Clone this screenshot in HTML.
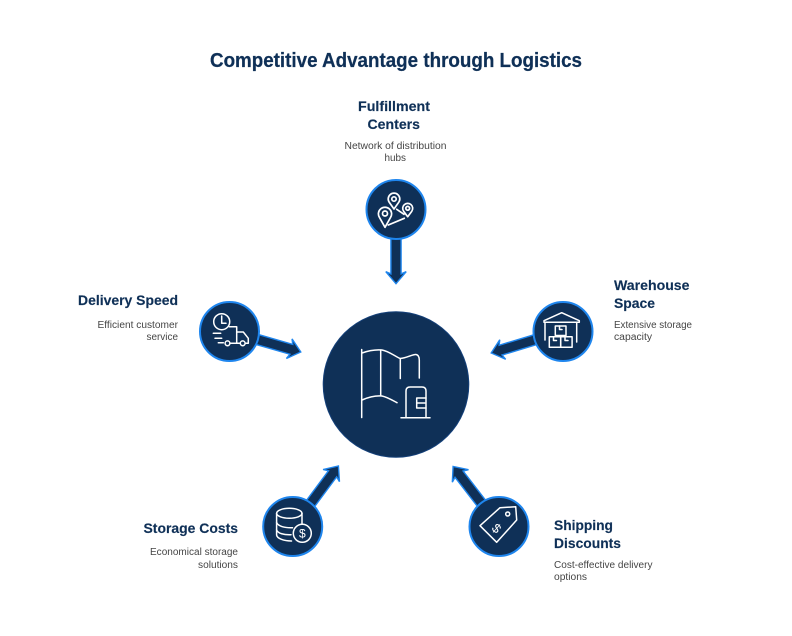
<!DOCTYPE html>
<html><head><meta charset="utf-8"><style>
html,body{margin:0;padding:0;background:#fff;width:792px;height:636px;overflow:hidden}
svg{display:block}
text{font-family:"Liberation Sans",sans-serif}
.t{font-weight:bold;fill:#0f3057;stroke:#0f3057;stroke-width:.25;font-size:20px}
.h{font-weight:bold;fill:#0f3057;stroke:#0f3057;stroke-width:.15;font-size:14px}
.s{fill:#454545;font-size:10px}
.i{fill:none;stroke:#fff;stroke-width:1.5;stroke-linecap:round;stroke-linejoin:round}
.a{fill:#0f3057;stroke:#1f86ee;stroke-width:1.4;stroke-linejoin:miter}
.c{fill:#0f3057;stroke:#1f86ee;stroke-width:2}
</style></head><body>
<svg width="792" height="636" viewBox="0 0 792 636" xmlns="http://www.w3.org/2000/svg">
<defs><path id="ar" d="M-5.1,-78 L-5.1,-11.6 L-10.2,-13.8 L0,-1.8 L10.2,-13.8 L5.1,-11.6 L5.1,-78 Z"/></defs>

<text class="t" x="210" y="67" textLength="372" lengthAdjust="spacingAndGlyphs">Competitive Advantage through Logistics</text>

<use href="#ar" class="a" transform="translate(396,285.5)"/>
<use href="#ar" class="a" transform="translate(302.5,352.5) rotate(-74)"/>
<use href="#ar" class="a" transform="translate(489.5,353.5) rotate(73.2)"/>
<use href="#ar" class="a" transform="translate(339.5,464.5) rotate(-143.4)"/>
<use href="#ar" class="a" transform="translate(452,465) rotate(142.4)"/>

<circle cx="396" cy="384.5" r="72.8" fill="#0f3057" stroke="#14407a" stroke-width="1"/>
<circle class="c" cx="396" cy="209.5" r="29.5"/>
<circle class="c" cx="229.5" cy="331.5" r="29.5"/>
<circle class="c" cx="563" cy="331.5" r="29.5"/>
<circle class="c" cx="292.7" cy="526.5" r="29.5"/>
<circle class="c" cx="499" cy="526.5" r="29.5"/>

<!-- centre icon -->
<g class="i">
<path d="M361.7,349.5V417.5"/>
<path d="M362,353C369,350.5 376,349.5 382,350C388,351 393,355 400,358.5C407,358 413,354 416,354.5C418.5,355 419.3,357 419.3,360V378"/>
<path d="M380.7,350V395"/>
<path d="M400.3,359V378.5"/>
<path d="M362,400C369,397 376,395.5 382,396C387,397 392,400 397,402.7"/>
<path d="M406,417V391Q406,387 410,387H422Q426,387 426,391V417"/>
<path d="M401,417.7H430"/>
<path d="M426,398H416.7V408H426M417,403H425"/>
</g>

<!-- pins -->
<g class="i" style="stroke-width:1.7">
<path d="M394,209L389.2,202.2A5.8,5.8 0 1 1 398.8,202.2Z"/><circle cx="394" cy="199" r="2.2"/>
<path d="M407.7,216.7L403.6,211.2A5,5 0 1 1 411.8,211.2Z"/><circle cx="407.7" cy="208.3" r="1.9"/>
<path d="M385,227.3L379.5,217.5A6.6,6.6 0 1 1 390.5,217.5Z"/><circle cx="385" cy="213.5" r="2.5"/>
<path d="M396.7,209.3L404,214.3M388.3,225L404.3,218.3"/>
</g>

<!-- truck -->
<g class="i">
<circle cx="221.7" cy="321.7" r="8"/>
<path d="M221.7,316V323.3H226"/>
<path d="M229.3,326.7H236.7V343.3H230M237,332H243.3L248.3,338.3V343.3H245.5M240,343.3H237"/>
<circle cx="227.5" cy="343.3" r="2.4"/><circle cx="242.7" cy="343.3" r="2.4"/>
<path d="M213.3,333.3H220.7M215,338.3H221.7M218.3,342.7H223.3"/>
</g>

<!-- warehouse -->
<g class="i">
<path d="M544,322.3V320.7L561.7,312.7L579.3,320.7V322.3Z"/>
<path d="M545,322.3V340M576.7,322.3V342"/>
<rect x="555.3" y="326" width="10.7" height="9.5"/>
<rect x="549.3" y="336.7" width="11.4" height="10.6"/>
<rect x="560.7" y="336.7" width="11.4" height="10.6"/>
<path d="M559.5,326V329.5H562M553.5,336.7V340.5H556.5M565,336.7V340.5H568"/>
</g>

<!-- database coins -->
<g class="i">
<ellipse cx="289.3" cy="513.3" rx="12.7" ry="5"/>
<path d="M276.6,513.3V535C277,538.5 284,541 291.5,541"/>
<path d="M302,513.3V524"/>
<path d="M276.6,522.5C278,526 284,528 292.5,527.7M276.6,530C278,533.5 284,535 291,534.7"/>
<circle cx="302.3" cy="533.3" r="9"/>
</g>
<text x="302.3" y="537.6" text-anchor="middle" fill="#fff" font-size="12">$</text>

<!-- tag -->
<g class="i">
<path d="M480,525.7L500,507.7L515.7,506.7L516.7,520L496.7,542.3Z"/>
<circle cx="507.7" cy="514" r="2"/>
</g>
<text transform="translate(496.5,528.5) rotate(42)" y="4.3" text-anchor="middle" fill="#fff" font-size="13">$</text>

<!-- labels -->
<text class="h" x="358" y="111" textLength="72" lengthAdjust="spacingAndGlyphs">Fulfillment</text>
<text class="h" x="367.5" y="129" textLength="52.5" lengthAdjust="spacingAndGlyphs">Centers</text>
<text class="s" x="344.5" y="149" textLength="102" lengthAdjust="spacingAndGlyphs">Network of distribution</text>
<text class="s" x="384.5" y="161" textLength="21.5" lengthAdjust="spacingAndGlyphs">hubs</text>

<text class="h" x="78" y="305" textLength="100" lengthAdjust="spacingAndGlyphs">Delivery Speed</text>
<text class="s" x="97.5" y="328" textLength="80.5" lengthAdjust="spacingAndGlyphs">Efficient customer</text>
<text class="s" x="146.5" y="340" textLength="31.5" lengthAdjust="spacingAndGlyphs">service</text>

<text class="h" x="614" y="290" textLength="75.5" lengthAdjust="spacingAndGlyphs">Warehouse</text>
<text class="h" x="614" y="308" textLength="41" lengthAdjust="spacingAndGlyphs">Space</text>
<text class="s" x="614" y="328" textLength="78" lengthAdjust="spacingAndGlyphs">Extensive storage</text>
<text class="s" x="614" y="340" textLength="38" lengthAdjust="spacingAndGlyphs">capacity</text>

<text class="h" x="143.5" y="533" textLength="94.5" lengthAdjust="spacingAndGlyphs">Storage Costs</text>
<text class="s" x="150" y="555" textLength="88" lengthAdjust="spacingAndGlyphs">Economical storage</text>
<text class="s" x="198" y="568" textLength="40" lengthAdjust="spacingAndGlyphs">solutions</text>

<text class="h" x="554" y="530" textLength="59" lengthAdjust="spacingAndGlyphs">Shipping</text>
<text class="h" x="554" y="548" textLength="67" lengthAdjust="spacingAndGlyphs">Discounts</text>
<text class="s" x="554" y="568" textLength="98.5" lengthAdjust="spacingAndGlyphs">Cost-effective delivery</text>
<text class="s" x="554" y="580" textLength="33" lengthAdjust="spacingAndGlyphs">options</text>
</svg>
</body></html>
